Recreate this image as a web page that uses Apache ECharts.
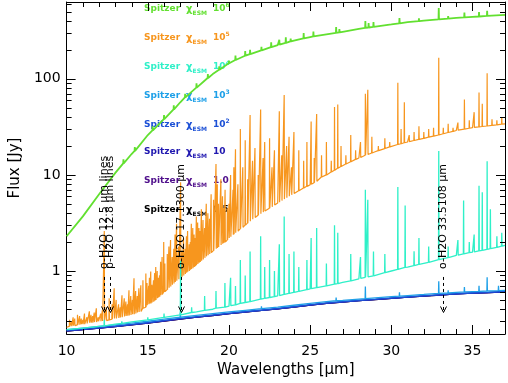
<!DOCTYPE html>
<html style="height: 100%">
<head>
<meta charset="utf-8">
<title>Spitzer spectra</title>
<script src="https://cdn.jsdelivr.net/npm/echarts@6/dist/echarts.min.js"></script>
</head>
<body style="height: 100%; margin: 0; background: #fff">
<div id="container" style="width: 508px; height: 383px"></div>
<script type="text/javascript">
// wavelength grid of the continuum samples (micron)
var wave = [10, 11, 12, 13, 14, 15, 16, 17, 18, 19, 20, 21, 22, 23, 24, 25, 26, 27, 28, 29, 30, 31, 32, 33, 34, 35, 36, 37];

// continuum fluxes (Jy) for each chi_ESM
var contChi1e6 = [2.3, 3.7, 6.3, 10.5, 16.5, 26, 38, 57, 81, 112, 145, 174, 198, 224, 250, 272, 290, 308, 330, 350, 368, 388, 403, 417, 430, 441, 452, 462];
var contChi1e5 = [0.26, 0.28, 0.30, 0.32, 0.35, 0.45, 0.6, 0.85, 1.15, 1.6, 2.2, 3.0, 4.0, 5.1, 6.4, 7.9, 10.0, 12.5, 15.0, 17.4, 19.8, 22, 24, 26.2, 29, 31, 32.5, 34];
var contChi1e4 = [0.245, 0.255, 0.265, 0.28, 0.295, 0.31, 0.33, 0.35, 0.375, 0.40, 0.43, 0.47, 0.51, 0.55, 0.6, 0.65, 0.7, 0.76, 0.83, 0.9, 1.0, 1.1, 1.2, 1.32, 1.45, 1.57, 1.7, 1.85];
var contChi1e3 = [0.245, 0.255, 0.265, 0.275, 0.287, 0.30, 0.315, 0.33, 0.345, 0.36, 0.375, 0.39, 0.405, 0.42, 0.44, 0.46, 0.48, 0.495, 0.51, 0.525, 0.54, 0.555, 0.57, 0.585, 0.6, 0.61, 0.62, 0.63];
var contChi1e2 = [0.24, 0.248, 0.257, 0.267, 0.278, 0.29, 0.305, 0.32, 0.334, 0.348, 0.363, 0.378, 0.392, 0.407, 0.426, 0.446, 0.465, 0.48, 0.495, 0.509, 0.524, 0.538, 0.553, 0.567, 0.582, 0.592, 0.601, 0.611];
var contChi10 = [0.238, 0.246, 0.255, 0.265, 0.276, 0.288, 0.302, 0.317, 0.331, 0.345, 0.36, 0.375, 0.389, 0.404, 0.422, 0.442, 0.461, 0.476, 0.491, 0.505, 0.52, 0.534, 0.549, 0.563, 0.578, 0.588, 0.597, 0.607];
var contChi1 = [0.237, 0.245, 0.254, 0.264, 0.275, 0.287, 0.301, 0.316, 0.33, 0.344, 0.359, 0.374, 0.388, 0.403, 0.421, 0.441, 0.46, 0.475, 0.49, 0.504, 0.519, 0.533, 0.548, 0.562, 0.577, 0.587, 0.596, 0.606];
var contChi05 = [0.237, 0.245, 0.254, 0.264, 0.275, 0.287, 0.301, 0.316, 0.33, 0.344, 0.359, 0.374, 0.388, 0.403, 0.421, 0.441, 0.46, 0.475, 0.49, 0.504, 0.519, 0.533, 0.548, 0.562, 0.577, 0.587, 0.596, 0.606];

// emission lines: [wavelength, continuum under the line, peak]
var linesChi1e6 = [[13.5, 13.2, 14.5], [14.2, 17.8, 19.5], [15.3, 29, 32], [16.0, 38, 42], [16.6, 48, 53], [17.3, 64, 70], [18.0, 81, 90], [18.7, 102, 112], [19.4, 124, 135], [20.0, 145, 155], [20.4, 157, 175], [21.0, 174, 195], [21.3, 181, 200], [22.0, 198, 215], [22.6, 214, 240], [23.1, 227, 255], [23.5, 237, 270], [23.8, 245, 262], [24.6, 263, 300], [25.2, 276, 310], [26.6, 301, 345], [26.8, 304, 330], [28.4, 338, 400], [28.6, 342, 380], [28.9, 348, 390], [30.5, 378, 430], [31.7, 398, 425], [32.92, 416, 545], [33.5, 424, 450], [34.5, 436, 490], [35.4, 445, 495], [35.9, 451, 510]];
var linesChi1e5 = [[10.18, 0.265, 0.31], [10.3, 0.266, 0.30], [10.4, 0.27, 0.33], [10.5, 0.27, 0.32], [10.67, 0.275, 0.35], [10.8, 0.276, 0.34], [10.9, 0.28, 0.32], [11.0, 0.28, 0.31], [11.1, 0.28, 0.36], [11.25, 0.285, 0.33], [11.4, 0.29, 0.38], [11.5, 0.29, 0.35], [11.6, 0.29, 0.34], [11.7, 0.294, 0.37], [11.83, 0.295, 0.41], [11.95, 0.3, 0.33], [12.1, 0.3, 0.36], [12.2, 0.302, 0.39], [12.32, 0.3, 2.6], [12.45, 0.305, 0.42], [12.62, 0.31, 0.52], [12.8, 0.315, 0.45], [12.93, 0.32, 0.66], [13.05, 0.321, 0.5], [13.2, 0.325, 0.45], [13.3, 0.328, 0.42], [13.41, 0.33, 0.56], [13.55, 0.336, 0.52], [13.65, 0.34, 0.48], [13.75, 0.342, 0.45], [13.84, 0.345, 0.63], [13.95, 0.348, 0.55], [14.05, 0.354, 0.5], [14.15, 0.355, 0.84], [14.25, 0.362, 0.62], [14.35, 0.37, 0.55], [14.45, 0.375, 0.66], [14.57, 0.38, 0.71], [14.7, 0.41, 0.8], [14.88, 0.42, 0.94], [14.95, 0.44, 0.75], [15.05, 0.45, 0.7], [15.1, 0.46, 0.85], [15.18, 0.46, 0.99], [15.25, 0.47, 0.72], [15.35, 0.48, 0.8], [15.42, 0.49, 0.95], [15.49, 0.5, 1.1], [15.58, 0.52, 1.0], [15.65, 0.53, 0.85], [15.72, 0.54, 0.9], [15.79, 0.56, 1.25], [15.88, 0.57, 1.4], [15.98, 0.6, 2.0], [16.05, 0.61, 1.2], [16.2, 0.64, 1.5], [16.3, 0.67, 1.8], [16.4, 0.69, 2.1], [16.5, 0.72, 1.4], [16.6, 0.74, 1.7], [16.68, 0.77, 2.4], [16.77, 0.79, 3.1], [16.9, 0.82, 1.8], [17.02, 0.85, 8.4], [17.1, 0.87, 1.6], [17.2, 0.9, 2.2], [17.3, 0.93, 1.7], [17.38, 0.96, 2.3], [17.45, 0.98, 2.6], [17.55, 1.0, 1.9], [17.62, 1.03, 2.0], [17.68, 1.05, 3.1], [17.77, 1.07, 2.8], [17.85, 1.1, 2.4], [17.92, 1.12, 2.2], [17.99, 1.15, 3.7], [18.07, 1.18, 3.2], [18.15, 1.22, 2.8], [18.22, 1.24, 2.6], [18.3, 1.28, 4.4], [18.4, 1.32, 3.4], [18.5, 1.37, 2.8], [18.6, 1.42, 5.0], [18.7, 1.46, 4.0], [18.8, 1.5, 3.5], [18.9, 1.55, 6.3], [19.05, 1.63, 5.5], [19.2, 1.7, 13], [19.28, 1.74, 8], [19.35, 1.78, 5], [19.5, 1.86, 9], [19.6, 1.92, 6], [19.68, 1.96, 4.5], [19.76, 2.0, 7], [19.9, 2.1, 4.5], [20.0, 2.2, 5], [20.1, 2.27, 10], [20.25, 2.38, 7], [20.3, 2.42, 12], [20.4, 2.5, 18.5], [20.55, 2.6, 8], [20.7, 2.75, 30], [20.85, 2.85, 12], [21.0, 3.0, 23], [21.15, 3.15, 9], [21.3, 3.3, 42], [21.45, 3.45, 14], [21.6, 3.6, 19], [21.8, 3.8, 10], [21.95, 3.95, 48], [22.1, 4.1, 15], [22.2, 4.2, 22], [22.5, 4.5, 24], [22.65, 4.65, 12], [22.8, 4.85, 18], [23.1, 5.2, 46], [23.25, 5.4, 16], [23.4, 5.6, 68], [23.55, 5.8, 20], [23.7, 6.0, 25], [23.85, 6.2, 12], [24.0, 6.4, 28], [24.3, 6.85, 18], [24.6, 7.3, 14], [24.8, 7.6, 22], [25.06, 8.0, 36], [25.25, 8.3, 15], [25.4, 8.6, 43], [25.7, 9.5, 16], [26.0, 10.0, 22], [26.3, 10.7, 14], [26.5, 11.2, 51], [26.7, 11.7, 54], [26.9, 12.2, 20], [27.2, 13.0, 16], [27.5, 13.7, 26], [27.8, 14.5, 18], [28.1, 15.2, 22], [28.4, 16.0, 70], [28.55, 16.3, 77], [28.8, 16.9, 25], [29.2, 17.9, 20], [29.6, 18.8, 24], [29.9, 19.6, 22], [30.4, 20.7, 91], [30.6, 21.1, 30], [30.8, 21.6, 57], [31.1, 22.2, 26], [31.4, 22.8, 28], [31.7, 23.4, 32], [32.0, 24.0, 28], [32.3, 24.7, 30], [32.6, 25.3, 31], [32.92, 26.0, 166], [33.2, 26.8, 31], [33.5, 27.6, 34], [33.8, 28.4, 31], [34.1, 29.2, 35], [34.5, 30.0, 61], [34.8, 30.6, 37], [35.1, 31.2, 45], [35.4, 31.6, 72], [35.6, 31.9, 55], [35.9, 32.3, 114], [36.2, 32.8, 38], [36.5, 33.2, 37], [36.8, 33.7, 40]];
var linesChi1e4 = [[12.32, 0.268, 0.31], [13.4, 0.285, 0.3], [15.0, 0.31, 0.33], [16.0, 0.33, 0.36], [17.02, 0.35, 1.28], [17.7, 0.37, 0.42], [18.5, 0.39, 0.55], [19.2, 0.41, 0.62], [19.75, 0.42, 0.75], [20.1, 0.435, 0.85], [20.4, 0.445, 0.7], [20.7, 0.46, 1.3], [21.0, 0.47, 0.9], [21.3, 0.48, 1.6], [21.95, 0.51, 2.3], [22.2, 0.52, 1.1], [22.5, 0.53, 1.3], [22.8, 0.54, 1.0], [23.1, 0.555, 1.9], [23.4, 0.57, 3.7], [23.7, 0.585, 1.5], [24.0, 0.6, 1.6], [24.3, 0.615, 1.1], [24.8, 0.64, 1.3], [25.06, 0.655, 2.2], [25.4, 0.67, 2.8], [26.0, 0.7, 1.2], [26.5, 0.73, 3.0], [26.7, 0.74, 2.5], [27.5, 0.79, 1.5], [28.1, 0.84, 1.4], [28.4, 0.86, 7.0], [28.55, 0.87, 5.5], [28.9, 0.89, 1.6], [29.6, 0.96, 1.5], [30.4, 1.04, 7.5], [30.85, 1.09, 4.8], [31.4, 1.14, 1.6], [31.7, 1.17, 2.2], [32.3, 1.23, 1.8], [32.92, 1.31, 17.7], [33.5, 1.38, 1.8], [34.1, 1.46, 2.1], [34.45, 1.51, 5.4], [34.8, 1.55, 2.0], [35.1, 1.58, 2.4], [35.4, 1.62, 7.7], [35.6, 1.64, 6.6], [35.9, 1.68, 13.9], [36.1, 1.71, 4.4], [36.5, 1.76, 2.3], [36.8, 1.81, 2.5]];
var linesChi1e3 = [[17.0, 0.33, 0.37], [22.0, 0.405, 0.43], [26.6, 0.49, 0.53], [28.4, 0.516, 0.69], [30.5, 0.547, 0.6], [32.92, 0.585, 0.78], [33.5, 0.59, 0.63], [34.5, 0.605, 0.68], [35.4, 0.613, 0.7], [35.9, 0.619, 0.86], [36.6, 0.626, 0.7]];

// legend labels
var legendExp = ['6', '5', '4', '3', '2', '', '', ''];
var legendBase = ['10', '10', '10', '10', '10', '10', '1.0', '0.5'];
var colors = ['#62e030', '#f7961e', '#2ff0c8', '#1ea0e8', '#1c50d6', '#2018b0', '#50108c', '#000000'];

// line identifications: [wavelength, label]
var annotations = [[12.32, 'o-H2O 12.5 \u03bcm lines'], [12.7, 'p-H2O 12.8 \u03bcm lines'], [17.02, 'o-H2O 17.1300 \u03bcm'], [33.2, 'o-H2O 33.5108 \u03bcm']];

// axis tick values
var xMinorTicks = [11, 12, 13, 14, 16, 17, 18, 19, 21, 22, 23, 24, 26, 27, 28, 29, 31, 32, 33, 34, 36];
var yMinorTicks = [0.3, 0.4, 0.5, 0.6, 0.7, 0.8, 0.9, 2, 3, 4, 5, 6, 7, 8, 9, 20, 30, 40, 50, 60, 70, 80, 90, 200, 300, 400, 500, 600];

var FONT = 'DejaVu Sans';

function buildSpectrum(cont, lines) {
    var pts = cont.map(function (v, i) { return [wave[i], v]; });
    (lines || []).forEach(function (l) {
        pts.push([l[0] - 0.015, l[1]], [l[0], l[2]], [l[0] + 0.015, l[1]]);
    });
    pts.sort(function (a, b) { return a[0] - b[0]; });
    return pts;
}

var dom = document.getElementById('container');
var myChart = echarts.init(dom);

function specSeries(name, cont, lines, color, width) {
    return {
        name: name, type: 'line', data: buildSpectrum(cont, lines),
        showSymbol: false, symbol: 'none', silent: true,
        lineStyle: { color: color, width: width || 1.2 },
        itemStyle: { color: color }
    };
}

var tickStyle = { stroke: '#000', lineWidth: 1 };

var series = [
    specSeries('0.5', contChi05, null, colors[7]),
    specSeries('1.0', contChi1, null, colors[6]),
    specSeries('10', contChi10, null, colors[5]),
    specSeries('1e2', contChi1e2, null, colors[4], 1.6),
    specSeries('1e3', contChi1e3, linesChi1e3, colors[3], 1.3),
    specSeries('1e5', contChi1e5, linesChi1e5, colors[1], 1.2),
    specSeries('1e4', contChi1e4, linesChi1e4, colors[2], 1.3),
    specSeries('1e6', contChi1e6, linesChi1e6, colors[0], 1.8),
    {
        type: 'custom', silent: true, z: 5,
        data: xMinorTicks.map(function (v) { return [v, 1]; }),
        renderItem: function (params, api) {
            var cs = params.coordSys;
            var x = Math.round(api.coord([api.value(0), 1])[0]) + 0.5;
            return { type: 'group', children: [
                { type: 'line', shape: { x1: x, y1: cs.y + cs.height, x2: x, y2: cs.y + cs.height - 5 }, style: tickStyle },
                { type: 'line', shape: { x1: x, y1: cs.y, x2: x, y2: cs.y + 5 }, style: tickStyle }
            ] };
        }
    },
    {
        type: 'custom', silent: true, z: 5,
        data: yMinorTicks.map(function (v) { return [10, v]; }),
        renderItem: function (params, api) {
            var cs = params.coordSys;
            var y = Math.round(api.coord([10, api.value(1)])[1]) + 0.5;
            return { type: 'group', children: [
                { type: 'line', shape: { x1: cs.x, y1: y, x2: cs.x + 5, y2: y }, style: tickStyle },
                { type: 'line', shape: { x1: cs.x + cs.width, y1: y, x2: cs.x + cs.width - 5, y2: y }, style: tickStyle }
            ] };
        }
    },
    {
        type: 'custom', silent: true, z: 6,
        data: annotations.map(function (a) { return [a[0], 1]; }),
        renderItem: function (params, api) {
            var lam = api.value(0);
            var label = annotations[params.dataIndex][1];
            var top = api.coord([lam, 1.05]);
            var tip = api.coord([lam, 0.37]);
            var x = Math.round(top[0]) + 0.5;
            return { type: 'group', children: [
                { type: 'line', shape: { x1: x, y1: top[1] + 8, x2: x, y2: tip[1] }, style: { stroke: '#000', lineWidth: 1, lineDash: [3, 3] } },
                { type: 'polyline', shape: { points: [[x - 3, tip[1] - 6], [x, tip[1]], [x + 3, tip[1] - 6]] }, style: { stroke: '#000', lineWidth: 1, fill: null } },
                { type: 'text', x: x, y: top[1], rotation: Math.PI / 2,
                  style: { text: label, x: 0, y: 0, align: 'left', verticalAlign: 'middle', fill: '#000', font: '11px "' + FONT + '"' } }
            ] };
        }
    }
];

// legend texts drawn as graphic elements
var legendItems = legendBase.map(function (b, i) {
    var base = { fontFamily: FONT, fontWeight: 'bold', fill: colors[i] };
    return {
        type: 'text', left: 144, top: 2 + i * 29,
        style: {
            text: '{a|Spitzer}{g|\u03c7}{s|ESM}{n|' + b + '}' + (legendExp[i] ? '{p|' + legendExp[i] + '}' : ''),
            fill: colors[i],
            rich: {
                a: echarts.util.extend({ fontSize: 9, lineHeight: 14 }, base),
                g: echarts.util.extend({ fontSize: 10, lineHeight: 14, padding: [0, 0, 0, 6] }, base),
                s: echarts.util.extend({ fontSize: 6, lineHeight: 8, verticalAlign: 'bottom' }, base),
                n: echarts.util.extend({ fontSize: 9, lineHeight: 14, padding: [0, 0, 0, 6] }, base),
                p: echarts.util.extend({ fontSize: 6, lineHeight: 8, verticalAlign: 'top' }, base)
            }
        }
    };
});

var axisLineStyle = { show: true, lineStyle: { color: '#000', width: 1 } };

var option = {
    animation: false,
    backgroundColor: '#fff',
    grid: { left: 62, right: 3, top: 2, bottom: 47, containLabel: false },
    xAxis: [{
        type: 'value', min: 10, max: 37, interval: 5, position: 'bottom',
        name: 'Wavelengths [\u03bcm]', nameLocation: 'middle', nameGap: 29,
        nameTextStyle: { fontFamily: FONT, fontSize: 15, color: '#000' },
        axisLine: axisLineStyle,
        axisTick: { show: true, inside: true, length: 9, lineStyle: { color: '#000' } },
        axisLabel: { fontFamily: FONT, fontSize: 14, color: '#000', margin: 10, showMaxLabel: false },
        splitLine: { show: false }
    }, {
        type: 'value', min: 10, max: 37, interval: 5, position: 'top',
        axisLine: axisLineStyle,
        axisTick: { show: true, inside: true, length: 9, lineStyle: { color: '#000' } },
        axisLabel: { show: false },
        splitLine: { show: false }
    }],
    yAxis: [{
        type: 'log', min: 0.221, max: 630, position: 'left',
        name: 'Flux [Jy]', nameLocation: 'middle', nameGap: 43,
        nameTextStyle: { fontFamily: FONT, fontSize: 15, color: '#000' },
        axisLine: axisLineStyle,
        axisTick: { show: true, inside: true, length: 9, lineStyle: { color: '#000' } },
        axisLabel: { fontFamily: FONT, fontSize: 14, color: '#000', margin: 6, showMinLabel: false, showMaxLabel: false },
        splitLine: { show: false }
    }, {
        type: 'log', min: 0.221, max: 630, position: 'right',
        axisLine: axisLineStyle,
        axisTick: { show: true, inside: true, length: 9, lineStyle: { color: '#000' } },
        axisLabel: { show: false },
        splitLine: { show: false }
    }],
    graphic: legendItems,
    series: series
};

myChart.setOption(option);
</script>
</body>
</html>
